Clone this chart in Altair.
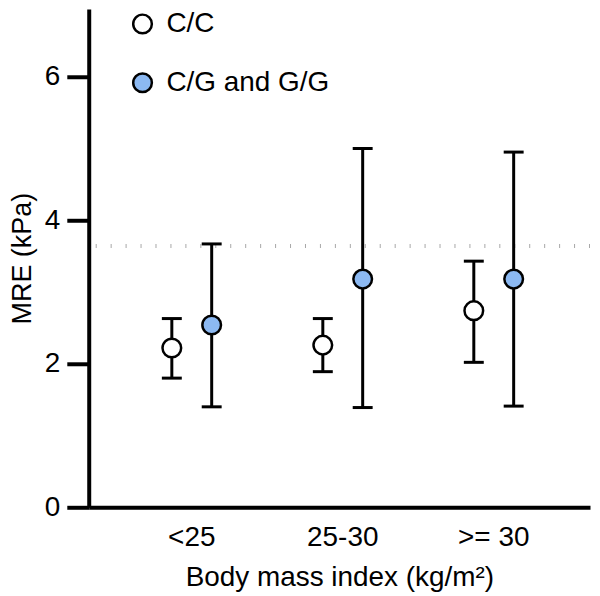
import altair as alt
import pandas as pd

bmi = ["<25", "25-30", ">= 30"]
groups = ["C/C", "C/G and G/G"]
cc_mean = [2.22, 2.26, 2.74]
cc_low = [1.80, 1.89, 2.02]
cc_high = [2.63, 2.63, 3.43]
cg_mean = [2.54, 3.18, 3.18]
cg_low = [1.40, 1.39, 1.41]
cg_high = [3.67, 5.00, 4.95]
ref_line = [3.64]
y_ticks = [0, 2, 4, 6]
fill_colors = ["white", "#8cb9f2"]

rows = []
for i, b in enumerate(bmi):
    rows.append(dict(bmi=b, group=groups[0], mean=cc_mean[i], low=cc_low[i], high=cc_high[i]))
    rows.append(dict(bmi=b, group=groups[1], mean=cg_mean[i], low=cg_low[i], high=cg_high[i]))
df = pd.DataFrame(rows)
ref_df = pd.DataFrame({"v": ref_line})

FONT = "Liberation Sans"

x_axis = alt.Axis(title="Body mass index (kg/m²)", labelAngle=0, ticks=False, tickSize=0,
                  labelPadding=16, titlePadding=12, titleFontSize=28,
                  domainWidth=4, domainColor="black")
x = alt.X("bmi:N", sort=bmi, axis=x_axis,
          scale=alt.Scale(type="band", paddingInner=0, paddingOuter=0.16, align=0.57))
xo = alt.XOffset("group:N", sort=groups,
                 scale=alt.Scale(type="band", paddingInner=0, paddingOuter=0.894))
y_scale = alt.Scale(domain=[0, 6.944], nice=False, zero=True)
y_axis = alt.Axis(values=y_ticks, title="MRE (kPa)", tickSize=22, tickWidth=4, tickColor="black",
                  domainWidth=4, domainColor="black", labelPadding=7, titlePadding=8, grid=False)

ref = alt.Chart(ref_df).mark_rule(color="#a8a8a8", strokeWidth=4, strokeDash=[1, 14]).encode(
    y=alt.Y("v:Q", scale=y_scale, axis=y_axis)
)

base = alt.Chart(df)
err = base.mark_rule(color="black", strokeWidth=3).encode(
    x=x, xOffset=xo,
    y=alt.Y("low:Q", scale=y_scale, axis=y_axis),
    y2="high:Q",
)
cap_lo = base.mark_tick(color="black", thickness=3, size=20, opacity=1).encode(
    x=x, xOffset=xo, y=alt.Y("low:Q", scale=y_scale, axis=y_axis)
)
cap_hi = base.mark_tick(color="black", thickness=3, size=20, opacity=1).encode(
    x=x, xOffset=xo, y=alt.Y("high:Q", scale=y_scale, axis=y_axis)
)
pts = base.mark_point(filled=True, size=350, stroke="black", strokeWidth=2.5, opacity=1).encode(
    x=x, xOffset=xo,
    y=alt.Y("mean:Q", scale=y_scale, axis=y_axis),
    fill=alt.Fill("group:N", sort=groups,
                  scale=alt.Scale(domain=groups, range=fill_colors),
                  legend=alt.Legend(title=None, orient="none", legendX=40, legendY=1,
                                    symbolType="circle", symbolSize=350,
                                    symbolStrokeColor="black", symbolStrokeWidth=2.5,
                                    labelFontSize=28, labelLimit=0, rowPadding=29,
                                    labelOffset=10, padding=0)),
)

chart = alt.layer(ref, err, cap_lo, cap_hi, pts).properties(
    width=503, height=500,
    padding={"left": 0, "top": 0, "right": 0, "bottom": 0},
).configure_view(stroke=None).configure_axis(
    labelFont=FONT, titleFont=FONT, labelColor="black", titleColor="black",
    labelFontSize=28, titleFontSize=27, titleFontWeight="normal",
).configure_legend(labelFont=FONT, labelColor="black")

chart.save("out.html", embed_options={"renderer": "svg", "actions": False})
